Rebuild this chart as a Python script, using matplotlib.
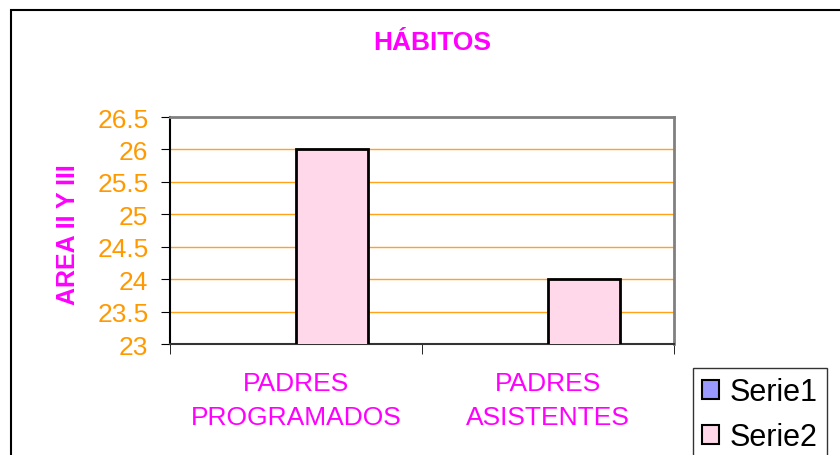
import matplotlib
matplotlib.use("Agg")
import matplotlib.pyplot as plt
from matplotlib.patches import Patch, Rectangle

plt.rcParams['font.family'] = ['Liberation Sans', 'DejaVu Sans']

categories = ["PADRES\nPROGRAMADOS", "PADRES\nASISTENTES"]
serie1 = [0, 0]
serie2 = [26, 24]
series_names = ["Serie1", "Serie2"]
yticks = [23, 23.5, 24, 24.5, 25, 25.5, 26, 26.5]

magenta = "#FF00FF"
orange = "#FF9900"
col1 = "#9999FF"
col2 = "#FFD9EA"

fig = plt.figure(figsize=(8.4, 4.56), dpi=100)
# outer chart frame
fig.patches.append(Rectangle((11 / 840, -0.1), 1.0, 1 - 11 / 456 + 0.1,
                             transform=fig.transFigure, fill=False,
                             edgecolor="black", linewidth=1.5))

ax = fig.add_axes([170 / 840, 1 - 345 / 456, 504 / 840, 227 / 456])

x = range(len(categories))
w = 1 / 3.5
ax.bar([i - w / 2 for i in x], serie1, width=w, color=col1,
       edgecolor="black", linewidth=2)
ax.bar([i + w / 2 for i in x], serie2, width=w, color=col2,
       edgecolor="black", linewidth=2, zorder=3)

ax.set_ylim(23, 26.5)
ax.set_xlim(-0.5, 1.5)
ax.set_yticks(yticks)
ax.set_yticklabels([f"{v:g}" for v in yticks], color=orange, fontsize=19)
for v in yticks[1:-1]:
    ax.axhline(v, color="#FFA31A", linewidth=1, zorder=1)

ax.set_xticks(list(x))
ax.set_xticklabels(categories, color=magenta, fontsize=19, linespacing=1.5)
ax.set_xticks([-0.5, 0.5, 1.5], minor=True)
ax.tick_params(axis="x", which="major", length=0, pad=19.5)
ax.tick_params(axis="x", which="minor", length=7, direction="out", color="black")
ax.tick_params(axis="y", length=6.5, direction="out", color="black", pad=9)

ax.spines["left"].set_color("black")
ax.spines["left"].set_linewidth(1.5)
ax.spines["bottom"].set_color("#333333")
ax.spines["bottom"].set_linewidth(1.5)
ax.spines["top"].set_color("#808080")
ax.spines["top"].set_linewidth(2)
ax.spines["right"].set_color("#808080")
ax.spines["right"].set_linewidth(2)

fig.text(68 / 840, 1 - 235 / 456, "AREA II Y III", color=magenta, fontsize=18,
         fontweight="bold", rotation=90, ha="center", va="center")
fig.text(432 / 840, 1 - 43 / 456, "HÁBITOS", color=magenta, fontsize=19,
         fontweight="bold", ha="center", va="center")

handles = [Patch(facecolor=col1, edgecolor="black", linewidth=1.5),
           Patch(facecolor=col2, edgecolor="black", linewidth=1.5)]
leg = fig.legend(handles, series_names, loc="upper left",
                 bbox_to_anchor=(693 / 840, 1 - 369 / 456), fontsize=22,
                 frameon=True, fancybox=False, handlelength=0.56,
                 handleheight=0.56, handletextpad=0.33, borderpad=0.3,
                 labelspacing=0.5, borderaxespad=0)
leg.get_frame().set_edgecolor("black")
leg.get_frame().set_linewidth(1)

fig.savefig("out.png", dpi=100)
